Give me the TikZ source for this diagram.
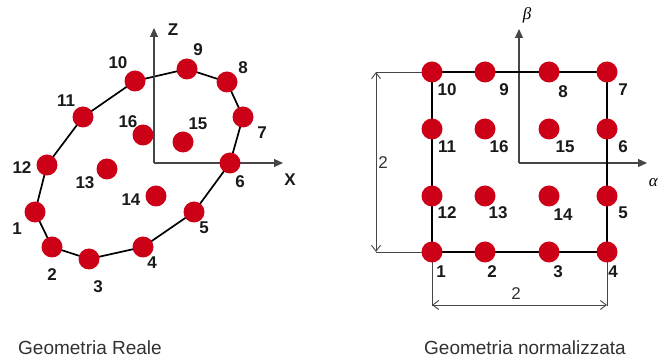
\documentclass[tikz,border=0pt]{standalone}
\usepackage{fontspec}
\setmainfont{Liberation Sans}
\newfontfamily\greekfont{Liberation Serif}
\usetikzlibrary{arrows.meta}
\pgfdeclarelayer{background}
\pgfsetlayers{background,main}
\definecolor{ptred}{RGB}{204,0,22}
\definecolor{axgray}{RGB}{70,70,70}
\definecolor{txtgray}{RGB}{50,50,50}
\tikzset{
  pt/.style={circle,fill=ptred,draw=none,minimum size=21pt,inner sep=0pt},
  lab/.style={font=\fontsize{17}{18}\selectfont\bfseries,text=black!90,inner sep=0pt},
  axis/.style={draw=axgray,line width=1.1pt,-{Triangle[length=9pt,width=8pt]}},
  edge/.style={draw=black,line width=1.7pt},
  dimline/.style={draw=axgray,line width=0.9pt},
  dimarrow/.style={draw=axgray,line width=0.9pt,{Straight Barb[length=6pt,width=9pt]}-{Straight Barb[length=6pt,width=9pt]}},
  title/.style={font=\fontsize{19}{20}\selectfont,text=txtgray,inner sep=0pt}
}
\begin{document}
\begin{tikzpicture}[x=1pt,y=-1pt]
\useasboundingbox (0,0) rectangle (659,363);
% ---------- left: real geometry ----------
\coordinate (LO) at (154,163);
\coordinate (LZ) at (154,28);
\coordinate (LX) at (283,163);
\node[pt] (a1) at (35,212) {};
\node[pt] (a2) at (52,247) {};
\node[pt] (a3) at (89,259) {};
\node[pt] (a4) at (143,247) {};
\node[pt] (a5) at (194,212) {};
\node[pt] (a6) at (230,163) {};
\node[pt] (a7) at (243,117) {};
\node[pt] (a8) at (227,82) {};
\node[pt] (a9) at (187,69) {};
\node[pt] (a10) at (135,81) {};
\node[pt] (a11) at (83,117) {};
\node[pt] (a12) at (47,165) {};
\node[pt] (a13) at (107,169) {};
\node[pt] (a14) at (156,196) {};
\node[pt] (a15) at (183,142) {};
\node[pt] (a16) at (143,135) {};
\begin{pgfonlayer}{background}
  \draw[edge] (a1.center) -- (a2.center) -- (a3.center) -- (a4.center) -- (a5.center) -- (a6.center) -- (a7.center) -- (a8.center) -- (a9.center) -- (a10.center) -- (a11.center) -- (a12.center) -- cycle;
  \draw[axis] (LO) -- (LZ);
  \draw[axis] (LO) -- (LX);
\end{pgfonlayer}
\node[lab] (tz) at (173,30) {Z};
\node[lab] (tx) at (290,180) {X};
\node[lab] (l1) at (17,229) {1};
\node[lab] (l2) at (52,275) {2};
\node[lab] (l3) at (98,287) {3};
\node[lab] (l4) at (152,263) {4};
\node[lab] (l5) at (204,228) {5};
\node[lab] (l6) at (240,182) {6};
\node[lab] (l7) at (262,133) {7};
\node[lab] (l8) at (243,68) {8};
\node[lab] (l9) at (198,50) {9};
\node[lab] (l10) at (118,63) {10};
\node[lab] (l11) at (66,101) {11};
\node[lab] (l12) at (22,168) {12};
\node[lab] (l13) at (85,183) {13};
\node[lab] (l14) at (131,200) {14};
\node[lab] (l15) at (198,124) {15};
\node[lab] (l16) at (128,122) {16};
% ---------- right: normalised geometry ----------
\coordinate (RO) at (519,163);
\coordinate (RB) at (519,29);
\coordinate (RA) at (647,163);
\node[pt] (b1) at (432,252) {};
\node[pt] (b2) at (485,252) {};
\node[pt] (b3) at (549,252) {};
\node[pt] (b4) at (607,252) {};
\node[pt] (b5) at (607,196) {};
\node[pt] (b6) at (607,129) {};
\node[pt] (b7) at (607,72) {};
\node[pt] (b8) at (549,72) {};
\node[pt] (b9) at (485,72) {};
\node[pt] (b10) at (432,72) {};
\node[pt] (b11) at (432,129) {};
\node[pt] (b12) at (432,196) {};
\node[pt] (b13) at (485,196) {};
\node[pt] (b14) at (549,196) {};
\node[pt] (b15) at (549,129) {};
\node[pt] (b16) at (485,129) {};
\coordinate (dT) at (376,72);
\coordinate (dB) at (376,252);
\coordinate (dL) at (432,305);
\coordinate (dR) at (607,305);
\begin{pgfonlayer}{background}
  \draw[axis] (RO) -- (RB);
  \draw[axis] (RO) -- (RA);
  \draw[edge] (b1.center) -- (b4.center) -- (b7.center) -- (b10.center) -- cycle;
  \draw[dimline] (dT) -- (b10.center);
  \draw[dimline] (dB) -- (b1.center);
  \draw[dimline] (b1.center) -- (432,306);
  \draw[dimline] (b4.center) -- (607,306);
  \draw[dimarrow] (dT) -- (dB);
  \draw[dimarrow] (dL) -- (dR);
\end{pgfonlayer}
\node[font=\fontsize{17}{18}\selectfont\itshape\greekfont,inner sep=0pt] (tb) at (527,15) {β};
\node[font=\fontsize{17}{18}\selectfont\itshape\greekfont,inner sep=0pt,anchor=east] (ta) at (658,183) {α};
\node[font=\fontsize{17}{18}\selectfont,text=txtgray,inner sep=0pt] (dv) at (383,163) {2};
\node[font=\fontsize{17}{18}\selectfont,text=txtgray,inner sep=0pt] (dh) at (516,294) {2};
\node[lab] (m1) at (441,272) {1};
\node[lab] (m2) at (492,272) {2};
\node[lab] (m3) at (558,272) {3};
\node[lab] (m4) at (613,272) {4};
\node[lab] (m5) at (623,213) {5};
\node[lab] (m6) at (623,147) {6};
\node[lab] (m7) at (623,90) {7};
\node[lab] (m8) at (563,92) {8};
\node[lab] (m9) at (504,90) {9};
\node[lab] (m10) at (447,90) {10};
\node[lab] (m11) at (447,147) {11};
\node[lab] (m12) at (447,213) {12};
\node[lab] (m13) at (498,213) {13};
\node[lab] (m14) at (563,215) {14};
\node[lab] (m15) at (565,147) {15};
\node[lab] (m16) at (499,147) {16};
% ---------- titles ----------
\node[title] (t1) at (90,348) {Geometria Reale};
\node[title] (t2) at (525,348) {Geometria normalizzata};
\end{tikzpicture}
\end{document}
